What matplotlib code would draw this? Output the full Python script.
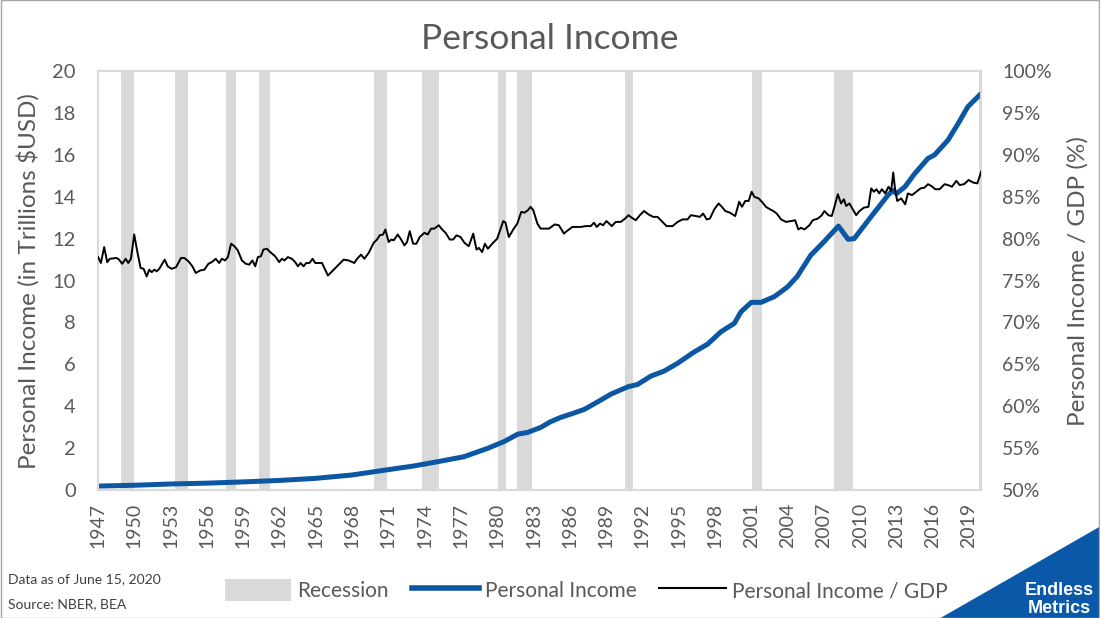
import matplotlib
matplotlib.use("Agg")
import matplotlib.pyplot as plt
from matplotlib.patches import Patch, Polygon
from matplotlib.lines import Line2D
from matplotlib.ticker import FuncFormatter

plt.rcParams['font.family'] = ['Lato', 'DejaVu Sans']

# NBER recessions (decimal years, as drawn)
rec_start = [1948.90, 1953.37, 1957.60, 1960.33, 1969.85, 1973.82, 1980.10,
             1981.60, 1990.60, 2001.05, 2007.85, 2019.85]
rec_end = [1949.95, 1954.42, 1958.40, 1961.24, 1970.90, 1975.20, 1980.70,
           1982.90, 1991.20, 2001.85, 2009.40, 2020.15]

# Personal income, trillions $USD
pi_year = [1947.0, 1950.0, 1953.0, 1956.0, 1959.0, 1962.0, 1965.0, 1968.0,
           1971.17, 1973.1, 1975.04, 1977.24, 1979.2, 1980.55, 1981.7, 1982.5,
           1983.6, 1984.4, 1985.25, 1986.1, 1987.2, 1988.3, 1989.4, 1990.8,
           1991.6, 1992.7, 1993.8, 1994.9, 1996.3, 1997.4, 1998.5, 1999.6,
           2000.15, 2001.0, 2001.8, 2002.9, 2004.0, 2004.8, 2005.9, 2007.0,
           2008.2, 2009.0, 2009.5, 2010.9, 2012.3, 2012.7, 2013.0, 2013.7,
           2014.5, 2015.6, 2016.15, 2017.25, 2018.1, 2018.9, 2020.0]
pi_val = [0.19, 0.23, 0.29, 0.33, 0.39, 0.46, 0.56, 0.72,
          0.99, 1.15, 1.35, 1.59, 1.99, 2.31, 2.67, 2.75,
          2.99, 3.26, 3.47, 3.63, 3.85, 4.21, 4.58, 4.93,
          5.04, 5.44, 5.68, 6.05, 6.60, 6.97, 7.56, 7.96,
          8.51, 8.96, 8.96, 9.23, 9.70, 10.20, 11.20, 11.85,
          12.60, 11.97, 12.00, 13.05, 14.08, 14.30, 14.15, 14.48,
          15.10, 15.83, 16.00, 16.70, 17.50, 18.30, 18.93]

# Personal income / GDP, %
ratio_year = [1947.02, 1947.25, 1947.52, 1947.77, 1947.99, 1948.55, 1948.74, 1949.01,
              1949.29, 1949.51, 1949.73, 1950.00, 1950.29, 1950.53, 1950.78, 1951.03,
              1951.25, 1951.45, 1951.66, 1951.86, 1952.07, 1952.27, 1952.52, 1952.77,
              1953.10, 1953.46, 1953.87, 1954.14, 1954.48, 1954.81, 1955.09, 1955.44,
              1955.80, 1956.13, 1956.41, 1956.74, 1957.02, 1957.24, 1957.51, 1957.74,
              1958.01, 1958.28, 1958.56, 1958.90, 1959.23, 1959.50, 1959.77, 1960.00,
              1960.22, 1960.47, 1960.68, 1960.97, 1961.24, 1961.65, 1961.98, 1962.21,
              1962.42, 1962.70, 1963.03, 1963.31, 1963.53, 1963.75, 1964.00, 1964.22,
              1964.49, 1964.74, 1964.96, 1965.52, 1966.01, 1966.56, 1966.76, 1967.31,
              1967.72, 1968.19, 1968.42, 1968.75, 1969.02, 1969.38, 1969.79, 1970.07,
              1970.29, 1970.57, 1970.76, 1971.03, 1971.25, 1971.45, 1971.78, 1972.06,
              1972.33, 1972.55, 1972.77, 1973.05, 1973.32, 1973.60, 1973.99, 1974.26,
              1974.54, 1974.81, 1975.17, 1975.45, 1975.73, 1976.08, 1976.36, 1976.64,
              1976.97, 1977.30, 1977.65, 1978.02, 1978.29, 1978.48, 1978.76, 1978.98,
              1979.23, 1979.59, 1980.00, 1980.50, 1980.69, 1980.96, 1981.33, 1981.66,
              1981.99, 1982.26, 1982.54, 1982.76, 1982.98, 1983.32, 1983.59, 1984.00,
              1984.28, 1984.75, 1985.10, 1985.52, 1985.66, 1986.02, 1986.21, 1986.90,
              1987.31, 1987.73, 1988.00, 1988.23, 1988.50, 1988.75, 1989.03, 1989.47,
              1989.80, 1990.21, 1990.57, 1990.85, 1991.12, 1991.46, 1991.79, 1992.14,
              1992.50, 1992.89, 1993.25, 1993.66, 1994.00, 1994.49, 1994.91, 1995.32,
              1995.73, 1996.01, 1996.42, 1996.75, 1997.02, 1997.31, 1997.58, 1997.94,
              1998.30, 1998.57, 1998.85, 1999.24, 1999.67, 2000.00, 2000.23, 2000.50,
              2000.78, 2001.03, 2001.25, 2001.61, 2001.94, 2002.21, 2002.55, 2002.82,
              2003.10, 2003.46, 2003.87, 2004.28, 2004.62, 2004.89, 2005.11, 2005.39,
              2005.80, 2006.08, 2006.50, 2006.83, 2007.04, 2007.37, 2007.65, 2007.87,
              2008.15, 2008.42, 2008.65, 2008.84, 2009.11, 2009.39, 2009.67, 2009.94,
              2010.30, 2010.68, 2010.91, 2011.13, 2011.35, 2011.57, 2011.79, 2012.07,
              2012.34, 2012.56, 2012.73, 2012.89, 2013.06, 2013.39, 2013.72, 2013.94,
              2014.28, 2014.63, 2014.99, 2015.32, 2015.60, 2015.87, 2016.21, 2016.56,
              2016.97, 2017.25, 2017.59, 2017.94, 2018.22, 2018.58, 2018.96, 2019.33,
              2019.68, 2020.00]
ratio_val = [77.8, 77.1, 79.0, 77.2, 77.6, 77.7, 77.5, 77.0,
             77.6, 77.1, 77.6, 80.5, 78.2, 76.5, 76.4, 75.5,
             76.3, 76.0, 76.3, 76.1, 76.4, 76.9, 77.5, 76.7,
             76.4, 76.6, 77.7, 77.7, 77.3, 76.7, 75.9, 76.2,
             76.3, 77.0, 77.2, 77.6, 77.1, 77.6, 77.4, 77.8,
             79.4, 79.1, 78.6, 77.4, 77.0, 76.9, 77.4, 76.7,
             77.8, 77.9, 78.7, 78.8, 78.4, 77.9, 77.2, 77.6,
             77.4, 77.8, 77.6, 77.2, 76.7, 77.1, 76.7, 77.1,
             77.1, 77.6, 77.1, 77.1, 75.6, 76.4, 76.7, 77.5,
             77.4, 77.1, 77.6, 78.1, 77.6, 78.3, 79.5, 79.9,
             80.4, 80.5, 81.1, 79.6, 79.9, 79.8, 80.5, 79.9,
             79.2, 79.6, 80.9, 79.4, 79.4, 80.2, 80.7, 80.5,
             81.2, 81.2, 81.6, 81.1, 80.7, 79.9, 79.9, 80.4,
             80.2, 79.5, 79.1, 80.6, 78.7, 78.9, 78.4, 79.4,
             78.8, 79.4, 80.0, 82.1, 81.9, 80.2, 81.1, 81.8,
             83.2, 83.1, 83.4, 83.8, 83.4, 81.8, 81.2, 81.2,
             81.2, 81.7, 81.6, 80.6, 80.8, 81.2, 81.4, 81.4,
             81.5, 81.5, 81.9, 81.4, 81.8, 81.6, 82.1, 81.5,
             82.0, 82.0, 82.4, 82.8, 82.5, 82.2, 82.8, 83.3,
             82.9, 82.6, 82.6, 82.0, 81.5, 81.5, 82.0, 82.3,
             82.3, 82.8, 82.7, 82.6, 83.0, 82.3, 82.4, 83.5,
             84.2, 83.8, 83.3, 83.1, 82.7, 84.4, 83.8, 84.5,
             84.5, 85.6, 85.0, 84.8, 84.3, 83.8, 83.5, 83.3,
             83.0, 82.3, 82.0, 82.1, 82.2, 81.1, 81.3, 81.1,
             81.6, 82.2, 82.4, 82.8, 83.3, 82.8, 82.7, 83.8,
             85.3, 84.2, 84.7, 83.9, 84.2, 83.5, 82.8, 83.3,
             83.7, 83.8, 86.0, 85.6, 85.9, 85.4, 85.9, 85.4,
             86.2, 85.7, 87.9, 85.8, 84.5, 84.8, 84.1, 85.4,
             85.2, 85.6, 86.0, 86.1, 86.5, 86.3, 85.9, 85.9,
             86.5, 86.4, 86.2, 86.9, 86.4, 86.5, 87.0, 86.7,
             86.6, 88.0]

tick_years = list(range(1947, 2020, 3))

grey_txt = '#595959'
frame = '#d9d9d9'
blue = '#0b57a4'

fig = plt.figure(figsize=(11, 6.18), dpi=100)
ax = fig.add_axes([0.089, 0.207, 0.803, 0.678])
ax2 = ax.twinx()

for s, e in zip(rec_start, rec_end):
    ax.axvspan(s, e, color=frame, lw=0, zorder=0)

ax.plot(pi_year, pi_val, color=blue, lw=3.6, solid_capstyle='butt', zorder=3)
ax2.plot(ratio_year, ratio_val, color='black', lw=1.4, zorder=4)

ax.set_xlim(1947, 2020)
ax.set_ylim(0, 20)
ax.set_yticks(range(0, 21, 2))
ax2.set_ylim(50, 100)
ax2.set_yticks(range(50, 101, 5))
ax2.yaxis.set_major_formatter(FuncFormatter(lambda v, p: f"{v:.0f}%"))

ax.set_xticks(tick_years)
ax.set_xticklabels([str(y) for y in tick_years], rotation=90)

for a in (ax, ax2):
    for sp in a.spines.values():
        sp.set_color(frame)
        sp.set_linewidth(1.5)
    a.tick_params(length=0, colors=grey_txt)

ax.tick_params(axis='y', labelsize=14.5, pad=16)
ax.tick_params(axis='x', labelsize=14, pad=9)
ax2.tick_params(axis='y', labelsize=14, pad=15)

ax.set_ylabel("Personal Income (in Trillions $USD)", fontsize=17.5, color=grey_txt)
ax.yaxis.set_label_coords(-0.066, 0.5)
ax2.set_ylabel("Personal Income / GDP (%)", fontsize=17.5, color=grey_txt)
ax2.yaxis.set_label_coords(1.097, 0.5)

fig.text(0.5, 0.937, "Personal Income", ha='center', va='center',
         fontsize=25.5, color=grey_txt)

handles = [Patch(color=frame, lw=0),
           Line2D([], [], color=blue, lw=4),
           Line2D([], [], color='black', lw=1.5)]
labels = ["Recession", "Personal Income", "Personal Income / GDP"]
leg = fig.legend(handles, labels, loc='center', bbox_to_anchor=(0.533, 0.045),
                 ncol=3, frameon=False, fontsize=15, handlelength=3.2,
                 handleheight=1.2, columnspacing=1.1, handletextpad=0.3)
for t in leg.get_texts():
    t.set_color(grey_txt)

fig.text(0.007, 0.056, "Data as of June 15, 2020", fontsize=10, color='#404040')
fig.text(0.007, 0.016, "Source: NBER, BEA", fontsize=10, color='#404040')

# logo corner
tri = Polygon([[1.0, 0.0], [1.0, 0.148], [0.855, 0.0]], closed=True,
              transform=fig.transFigure, color='#0a58a8', lw=0)
fig.patches.append(tri)
fig.text(0.963, 0.045, "Endless", ha='center', va='center', fontsize=13,
         fontweight='bold', color='white', family=['Liberation Sans Narrow', 'Liberation Sans'])
fig.text(0.963, 0.015, "Metrics", ha='center', va='center', fontsize=13,
         fontweight='bold', color='white', family=['Liberation Sans Narrow', 'Liberation Sans'])

border = plt.Rectangle((0.0005, 0.0008), 0.999, 0.9985, transform=fig.transFigure,
                       fill=False, edgecolor='#a6a6a6', lw=1)
fig.patches.append(border)

fig.savefig("out.png", dpi=100)
